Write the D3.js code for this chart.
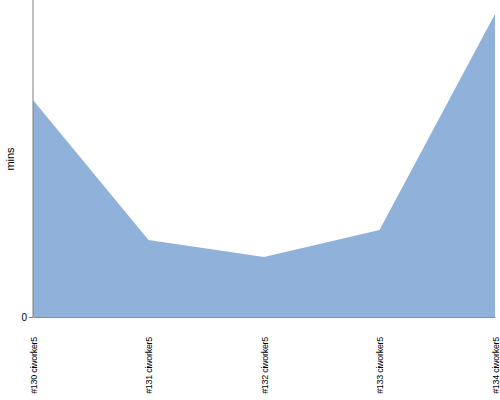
<!DOCTYPE html>
<html><head><meta charset="utf-8">
<script src="https://cdn.jsdelivr.net/npm/d3@7"></script>
<style>body{margin:0;background:#fff}svg{display:block}</style>
</head><body>
<svg id="c" width="500" height="400"></svg>
<script>
const categories = ["#130 ciworker5","#131 ciworker5","#132 ciworker5","#133 ciworker5","#134 ciworker5"];
const values = [217, 77, 60, 87, 303];
const yTicks = [0];
const yMax = 317;

const svg = d3.select("#c");
const m = {l:33, r:5, t:0, b:83};
const W = 500, H = 400;
const x = d3.scalePoint().domain(categories).range([m.l, W - m.r]);
const y = d3.scaleLinear().domain([0, yMax]).range([H - m.b, m.t]);

svg.append("path")
  .datum(values)
  .attr("fill", "#8fb1da")
  .attr("d", d3.area().x((d,i)=>x(categories[i])).y0(y(0)).y1(d=>y(d)));

const xa = svg.append("g").attr("transform", `translate(0,${y(0)})`)
  .call(d3.axisBottom(x).tickSize(0).tickPadding(0));
xa.select(".domain").attr("stroke", "#7f8fa0");
xa.selectAll("text")
  .attr("transform", "rotate(-90)")
  .attr("text-anchor", "end")
  .attr("x", -20).attr("y", 0).attr("dy", "0.35em")
  .attr("font-family", "Liberation Sans, Arial, sans-serif")
  .attr("font-size", 9).attr("letter-spacing", "-0.3px").attr("fill", "#000");

const ya = svg.append("g").attr("transform", `translate(${m.l},0)`)
  .call(d3.axisLeft(y).tickValues(yTicks).tickSize(4).tickPadding(2));
ya.select(".domain").attr("stroke", "#7f7f7f").attr("d", `M0,${y(0)}V0`);
ya.selectAll(".tick line").attr("stroke", "#7f7f7f");
ya.selectAll("text").attr("font-family", "Liberation Sans, Arial, sans-serif").attr("font-size", 10).attr("fill", "#000");

svg.append("text")
  .attr("transform", `translate(14,159) rotate(-90)`)
  .attr("text-anchor", "middle")
  .attr("font-family", "Liberation Sans, Arial, sans-serif")
  .attr("font-size", 11).attr("fill", "#000")
  .text("mins");
</script>
</body></html>
